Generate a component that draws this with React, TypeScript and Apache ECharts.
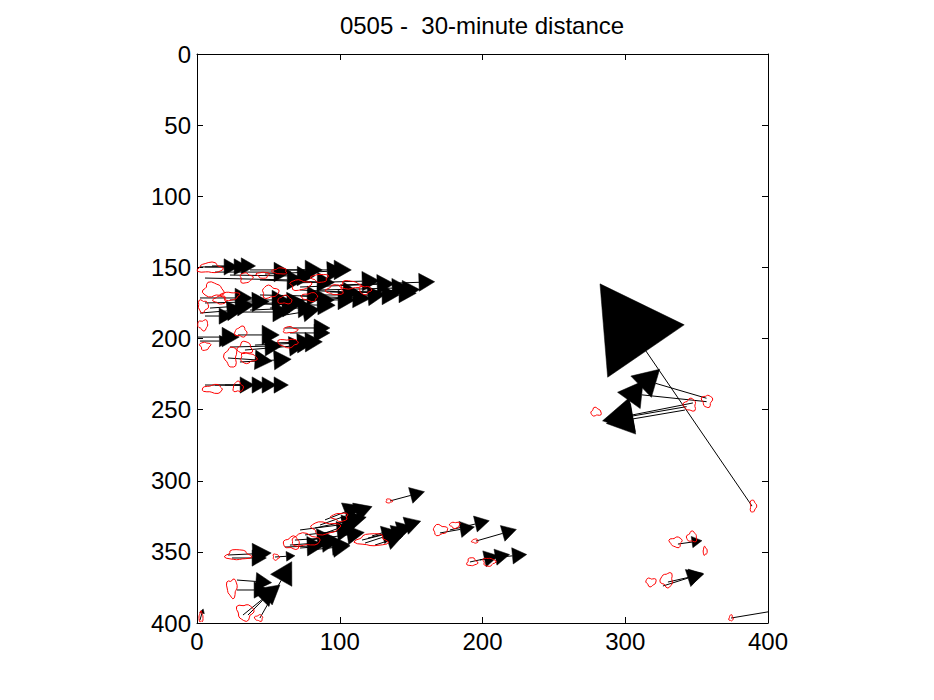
import React, { useEffect, useRef } from "react";
import * as echarts from "echarts";

const TITLE = "0505 -  30-minute distance";
const xTicks = [0, 100, 200, 300, 400];
const yTicks = [0, 50, 100, 150, 200, 250, 300, 350, 400];

// arrow start / end (data units) and head length (data units)
const startX = [2.1, 5.6, 10.5, 12.6, 23.1, 37.1, 47.6, 58.1, 5.6, 44.1, 65.1, 72.2, 86.2, 93.2, 100.2, 79.2, 103.7, 2.1, 5.6, 9.1, 23.1, 30.1, 44.1, 51.1, 2.1, 61.6, 5.6, 0.7, 2.1, 28.7, 61.6, 65.1, 23.1, 33.6, 40.6, 47.6, 21.7, 30.1, 5.6, 12.6, 19.6, 26.6, 72.2, 75.7, 65.1, 72.2, 79.2, 82.7, 86.2, 61.6, 68.6, 54.6, 21.7, 24.5, 44.1, 28.0, 28.0, 32.2, 35.7, 2.1, 135.2, 115.6, 117.7, 119.8, 122.6, 124.7, 170.2, 177.2, 195.4, 191.2, 198.2, 205.2, 388.8, 356.9, 357.0, 347.4, 343.0, 341.8, 336.9, 326.4, 329.9, 374.1, 23.1, 37.1, 44.1, 54.6, 72.2, 86.2, 61.6, 72.2, 86.2, 79.2, 89.7];
const startY = [149.7, 149.7, 149.0, 153.3, 155.4, 151.8, 154.7, 151.8, 157.5, 158.9, 161.0, 163.8, 165.9, 167.3, 162.4, 169.4, 167.3, 171.5, 175.0, 178.6, 172.9, 176.5, 169.4, 178.6, 182.1, 172.9, 184.2, 199.0, 201.8, 197.5, 192.6, 196.1, 206.0, 208.1, 204.6, 203.2, 213.7, 216.5, 232.7, 232.7, 232.7, 232.7, 334.6, 338.1, 345.2, 347.3, 341.7, 333.2, 331.1, 346.6, 341.7, 353.6, 352.2, 354.3, 396.5, 369.8, 376.8, 394.4, 394.4, 397.9, 314.2, 341.7, 343.8, 340.3, 338.8, 345.2, 336.7, 334.6, 342.4, 357.1, 355.7, 354.3, 317.8, 242.0, 244.4, 245.3, 247.9, 250.3, 344.5, 374.0, 371.2, 396.5, 181.4, 180.0, 175.8, 172.9, 170.1, 172.9, 183.5, 165.9, 338.1, 348.7, 327.5];
const endX = [19.0, 26.0, 31.0, 54.0, 70.2, 75.8, 91.2, 96.1, 63.2, 84.2, 115.7, 126.2, 136.7, 141.6, 155.5, 129.7, 144.0, 26.7, 38.6, 28.1, 52.6, 63.2, 77.2, 59.6, 21.1, 84.2, 15.5, 17.6, 15.7, 45.6, 82.1, 82.1, 47.7, 64.6, 70.2, 75.8, 40.7, 54.0, 30.2, 38.6, 45.6, 54.0, 101.8, 98.2, 87.7, 94.7, 105.3, 106.8, 111.3, 77.2, 84.2, 62.6, 39.0, 38.6, 59.0, 41.3, 40.0, 48.0, 46.0, 3.5, 149.7, 130.0, 137.2, 140.5, 146.2, 133.6, 184.5, 195.0, 214.1, 201.4, 209.1, 221.0, 314.5, 321.2, 311.5, 304.7, 305.0, 305.5, 346.8, 344.0, 345.3, 425.0, 53.2, 70.8, 84.8, 98.8, 109.3, 119.8, 74.3, 102.3, 103.0, 95.3, 103.7];
const endY = [149.7, 149.7, 149.0, 153.3, 156.1, 151.8, 152.8, 151.8, 158.8, 160.2, 159.7, 161.9, 164.6, 168.0, 160.5, 169.4, 166.0, 171.5, 174.3, 177.3, 172.9, 174.4, 170.1, 178.0, 180.6, 172.9, 184.2, 199.0, 201.8, 197.5, 192.6, 196.1, 205.4, 205.5, 203.3, 202.6, 215.0, 215.2, 232.7, 232.7, 232.7, 232.7, 330.8, 335.5, 343.5, 345.6, 338.0, 328.1, 322.2, 346.0, 340.6, 353.1, 351.4, 354.3, 370.0, 370.8, 376.8, 381.5, 384.0, 393.0, 310.3, 338.1, 337.4, 334.9, 331.6, 342.3, 334.2, 330.4, 337.0, 354.9, 353.7, 352.8, 208.8, 231.5, 239.6, 253.8, 254.5, 256.5, 343.1, 368.4, 367.7, 388.0, 181.4, 178.6, 176.5, 172.9, 171.5, 170.1, 181.4, 167.3, 332.0, 347.0, 322.0];
const headLen = [10, 10, 10, 12, 12, 12, 12, 12, 12, 12, 12, 12, 12, 12, 11, 12, 12, 12, 12, 12, 12, 12, 12, 12, 12, 12, 10, 12, 7, 12, 11, 11, 12, 12, 12, 12, 12, 12, 10, 10, 10, 10, 12, 12, 12, 12, 12, 12, 12, 12, 12, 6, 13, 10, 15, 11, 10, 13, 11, 3, 10, 11, 11, 11, 11, 11, 10, 10, 10, 10, 10, 10, 57, 18, 17, 21, 19, 19, 7, 11, 10, 10, 12, 12, 12, 12, 12, 12, 12, 12, 12, 12, 12];

// red contour blobs: centre and half-extent (data units)
const blobX = [9.1, 34.3, 46.2, 58.1, 11.2, 4.2, 4.2, 30.8, 65.1, 5.6, 23.8, 33.6, 35.7, 63.7, 11.2, 28.7, 72.2, 86.2, 96.7, 107.2, 117.7, 79.2, 61.6, 51.1, 23.1, 16.1, 28.7, 55.3, 24.5, 66.5, 75.7, 89.7, 100.2, 122.6, 134.5, 33.6, 43.4, 2.8, 170.2, 180.7, 194.7, 192.6, 204.5, 335.5, 346.7, 355.9, 318.0, 329.2, 374.1, 389.5, 357.3, 345.4, 279.5];
const blobY = [150.4, 157.5, 155.4, 152.6, 165.9, 177.2, 190.5, 195.4, 194.0, 205.3, 213.0, 206.7, 213.7, 203.2, 235.5, 234.1, 162.4, 157.5, 165.9, 162.4, 165.9, 170.8, 172.9, 167.3, 170.1, 172.9, 352.2, 353.6, 375.4, 343.8, 341.7, 333.2, 325.5, 341.7, 314.2, 392.3, 396.5, 395.8, 334.6, 331.1, 342.4, 357.1, 357.1, 343.1, 339.5, 349.4, 371.2, 369.8, 396.5, 317.8, 243.9, 246.7, 251.7];
const blobRX = [8.4, 4.2, 4.2, 4.9, 7, 3.5, 3.5, 4.2, 4.9, 3.5, 4.2, 4.9, 5.6, 7, 7, 3.5, 7, 5.6, 5.6, 7, 4.2, 5.6, 4.9, 5.6, 6.3, 4.2, 8.4, 2.1, 3.5, 5.6, 9.8, 9.8, 5.6, 10.5, 2.1, 5.6, 2.8, 1.4, 4.9, 3.5, 2.1, 3.5, 4.2, 4.2, 3.5, 1.4, 3.5, 4.2, 1.4, 2.1, 3.5, 4.2, 3.5];
const blobRY = [3.5, 3.5, 2.1, 2.1, 4.9, 4.2, 3.5, 3.5, 2.1, 2.8, 7, 4.2, 3.5, 2.8, 2.8, 3.5, 3.5, 2.8, 3.5, 2.8, 2.8, 2.8, 2.8, 4.2, 2.8, 2.8, 3.5, 2.1, 6.3, 4.2, 4.2, 4.2, 2.8, 4.2, 1.4, 5.6, 2.1, 3.5, 3.5, 2.1, 1.4, 2.8, 2.8, 3.5, 3.5, 2.8, 2.8, 4.9, 2.1, 4.2, 4.2, 4.2, 2.8];

const FONT = "'Liberation Sans', Arial, Helvetica, sans-serif";

export default function App() {
  const ref = useRef<HTMLDivElement>(null);
  useEffect(() => {
    document.body.style.margin = "0";
    if (!ref.current) return;
    const chart = echarts.init(ref.current, null, { renderer: "svg" });
    const arrows = startX.map((x, i) => [x, startY[i], endX[i], endY[i], headLen[i]]);
    const blobs = blobX.map((x, i) => [x, blobY[i], blobRX[i], blobRY[i]]);
    const axisCommon = {
      type: "value" as const,
      min: 0,
      max: 400,
      axisLine: { show: true, onZero: false, lineStyle: { color: "#000", width: 1 } },
      axisTick: { show: true, inside: true, length: 6, lineStyle: { color: "#000" } },
      splitLine: { show: false },
    };
    chart.setOption({
      animation: false,
      backgroundColor: "#fff",
      title: {
        text: TITLE,
        left: 477,
        top: 8,
        textAlign: "center",
        textStyle: { fontFamily: FONT, fontSize: 24, fontWeight: "normal", color: "#000" },
      },
      grid: { left: 197, top: 54, width: 571, height: 569, show: false },
      xAxis: [
        {
          ...axisCommon,
          position: "bottom",
          interval: 100,
          axisLabel: {
            show: true,
            margin: 6,
            fontFamily: FONT,
            fontSize: 24,
            color: "#000",
            customValues: xTicks,
          },
        },
        {
          ...axisCommon,
          position: "top",
          interval: 100,
          axisLabel: { show: false },
        },
      ],
      yAxis: [
        {
          ...axisCommon,
          position: "left",
          inverse: true,
          interval: 50,
          axisLabel: {
            show: true,
            margin: 6,
            fontFamily: FONT,
            fontSize: 24,
            color: "#000",
            customValues: yTicks,
          },
        },
        {
          ...axisCommon,
          position: "right",
          inverse: true,
          interval: 50,
          axisLabel: { show: false },
        },
      ],
      series: [
        {
          type: "custom",
          name: "arrows",
          coordinateSystem: "cartesian2d",
          xAxisIndex: 0,
          yAxisIndex: 0,
          z: 2,
          silent: true,
          encode: { x: [0, 2], y: [1, 3] },
          data: arrows,
          renderItem: (params: any, api: any) => {
            const p0 = api.coord([api.value(0), api.value(1)]);
            const p1 = api.coord([api.value(2), api.value(3)]);
            const hl = Math.abs(api.size([api.value(4), 0])[0]);
            let dx = p1[0] - p0[0];
            let dy = p1[1] - p0[1];
            const L = Math.hypot(dx, dy) || 1;
            dx /= L;
            dy /= L;
            const nx = -dy;
            const ny = dx;
            const hw = hl * 0.57;
            const tip = [p1[0] + dx * hl, p1[1] + dy * hl];
            const cs = params.coordSys;
            return {
              type: "group",
              clipPath: { type: "rect", shape: { x: cs.x, y: cs.y, width: cs.width, height: cs.height } },
              children: [
                {
                  type: "line",
                  shape: { x1: p0[0], y1: p0[1], x2: p1[0], y2: p1[1] },
                  style: { stroke: "#000", lineWidth: 1 },
                },
                {
                  type: "polygon",
                  shape: {
                    points: [
                      tip,
                      [p1[0] + nx * hw, p1[1] + ny * hw],
                      [p1[0] - nx * hw, p1[1] - ny * hw],
                    ],
                  },
                  style: { fill: "#000", stroke: "#000", lineWidth: 0.5 },
                },
              ],
            };
          },
        },
        {
          type: "custom",
          name: "contours",
          coordinateSystem: "cartesian2d",
          xAxisIndex: 0,
          yAxisIndex: 0,
          z: 3,
          silent: true,
          encode: { x: 0, y: 1 },
          data: blobs,
          renderItem: (params: any, api: any) => {
            const i = params.dataIndex;
            const c = api.coord([api.value(0), api.value(1)]);
            const s = api.size([api.value(2), api.value(3)]);
            const sx = Math.abs(s[0]);
            const sy = Math.abs(s[1]);
            const pts: number[][] = [];
            const n = 22;
            for (let k = 0; k < n; k++) {
              const t = (2 * Math.PI * k) / n;
              const r = 1 + 0.16 * Math.sin(3 * t + i * 1.7) + 0.1 * Math.cos(5 * t + i * 0.9);
              pts.push([c[0] + sx * r * Math.cos(t), c[1] + sy * r * Math.sin(t)]);
            }
            return {
              type: "polygon",
              shape: { points: pts },
              style: { fill: "none", stroke: "#ff0000", lineWidth: 1 },
            };
          },
        },
      ],
    });
    return () => chart.dispose();
  }, []);
  return <div ref={ref} style={{ width: 934, height: 700 }} />;
}
